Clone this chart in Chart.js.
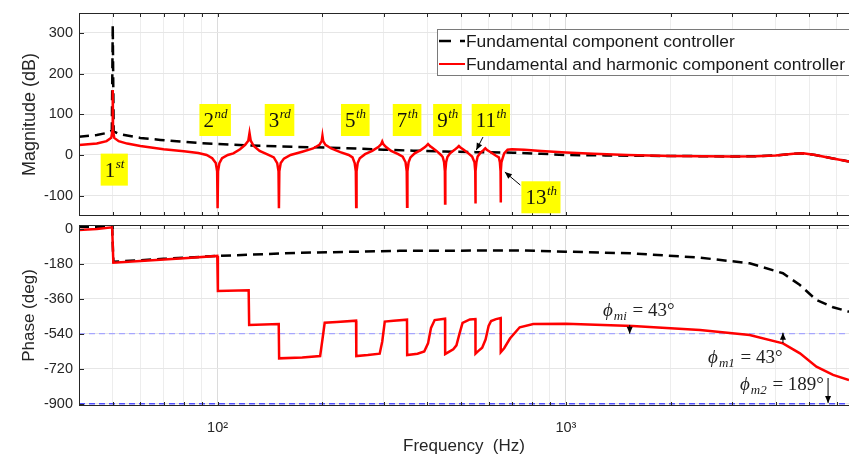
<!DOCTYPE html>
<html>
<head>
<meta charset="utf-8">
<script src="https://cdn.jsdelivr.net/npm/chart.js@4.4.1/dist/chart.umd.min.js"></script>
<style>
  body { margin: 0; background: #fff; }
  #wrap { position: relative; width: 849px; height: 457px; overflow: hidden; }
  canvas { position: absolute; left: 0; }
</style>
</head>
<body>
<div id="wrap">
  <canvas id="magChart" width="849" height="222" style="top:0"></canvas>
  <canvas id="phaseChart" width="849" height="237" style="top:220px"></canvas>
</div>
<script>
// BODE PLOT DATA

var seriesNames = ["Fundamental component controller", "Fundamental and harmonic component controller"];

// magnitude (dB) - fundamental controller
var magFreqFund = [40, 45, 48, 49.7, 50, 50.3, 52, 55, 60, 68.5, 78, 90, 100, 120, 150, 187, 250, 300, 364, 450, 550, 705, 850, 1000, 1300, 1600, 2000, 2500, 3000, 3500, 4000, 4500, 4800, 5200, 5800, 6500];
var magFund = [45, 49, 54, 60, 320, 58, 52, 48, 42, 37, 33, 29, 27, 24, 21, 19, 16, 13, 10.6, 8.5, 7, 5.7, 3, 0, -1, -2, -2.5, -3, -4, -3, -1, 3, 4, 0, -8, -16];

// magnitude (dB) - fundamental + harmonic controller
var magFreqHarm = [40, 45, 48, 49.5, 49.9, 50, 50.1, 50.5, 52, 55, 60, 70, 80, 88, 93, 96.5, 98.8, 99.7, 100, 100.3, 101.2, 103, 107, 111, 116, 120, 122.5, 123.5, 124.5, 127, 132, 140, 145, 148.3, 149.6, 150, 150.4, 151.8, 155, 162, 175, 188, 196, 199, 200, 201, 204, 212, 225, 238, 244, 247.5, 249.4, 250, 250.6, 252.5, 256, 265, 278, 290, 295, 297, 299, 304, 315, 330, 340, 346.5, 349.2, 350, 350.8, 353.5, 358, 368, 383, 395, 400, 402, 404, 410, 425, 438, 443, 447, 449.3, 450, 450.7, 453, 457, 465, 478, 489, 493, 497, 510, 525, 538, 546.5, 549.3, 550, 550.7, 553.5, 558, 568, 580, 587, 594, 610, 630, 642, 646.5, 649.3, 650, 650.7, 653, 657, 665, 680, 700, 760, 850, 1000, 1200, 1500, 2000, 2500, 3000, 3500, 4000, 4500, 4800, 5200, 5800, 6500];
var magHarm = [24.6, 28, 34, 42, 60, 160, 60, 42, 34, 28, 22, 14, 9, 5, 0, -8, -20, -40, -131, -40, -20, -8, 0, 4, 14, 25, 35, 54, 35, 22, 10, 0, -6, -20, -40, -131, -40, -20, -9, 0, 8, 16, 25, 34, 47, 34, 25, 16, 7, 0, -6, -20, -40, -128, -40, -20, -8, 2, 10, 20, 27, 33, 27, 20, 10, 2, -4, -18, -40, -127, -40, -18, -6, 4, 12, 20, 25, 27, 25, 20, 10, 0, -5, -18, -40, -119, -40, -18, -5, 4, 12, 19, 22, 19, 12, 4, -4, -18, -40, -119, -40, -18, -4, 5, 12, 16.5, 12, 6, -2, -6, -18, -40, -117, -40, -18, -10, 4, 13, 14, 13, 10, 6, 3, 0, -2.5, -3, -4, -3, -1, 3, 4, 0, -8, -16];

// phase (deg) - fundamental controller
var phaseFreqFund = [40, 49.8, 50.2, 70, 100, 172, 333, 734, 1000, 1556, 2427, 3370, 4200, 4700, 5240, 5850, 6500];
var phaseFund = [10, 10, -170, -155, -140, -124, -114, -112, -118, -127, -149, -178, -229, -290, -367, -404, -427];

// phase (deg) - fundamental + harmonic controller
var phaseFreqHarm = [40, 45, 49.8, 50.2, 60, 80, 99.8, 100.2, 122.8, 123.2, 149.8, 150.2, 175, 197, 200, 203, 220, 249.8, 250.2, 270, 292, 297, 302, 320, 349.8, 350.2, 375, 392, 402, 410, 420, 449.8, 450.2, 460, 475, 485, 495, 505, 530, 549.8, 550.2, 560, 575, 588, 600, 610, 630, 649.8, 650.2, 665, 691, 737, 806, 1000, 1556, 2427, 3370, 4200, 4700, 5240, 5850, 6500];
var phaseHarm = [-7, -2, 7, -175, -166, -152, -140, -320, -317, -495, -490, -667, -662, -655, -570, -484, -480, -473, -655, -650, -643, -580, -478, -473, -468, -650, -643, -632, -590, -510, -470, -463, -645, -635, -620, -600, -540, -485, -467, -465, -643, -630, -612, -570, -500, -475, -465, -460, -635, -615, -565, -507, -490, -489, -500, -521, -547, -590, -641, -710, -752, -778];

var phaseRefLevels = [-540, -900];

var freqMin = 40, freqMax = 6500;
var freqTicks = [50, 60, 70, 80, 90, 100, 200, 300, 400, 500, 600, 700, 800, 900, 1000, 2000, 3000, 4000, 5000, 6000];
var freqLabelValues = [100, 1000];
var freqLabelText = ["10\u00b2", "10\u00b3"];
var magTicks = [-100, 0, 100, 200, 300];
var phaseTicks = [-900, -720, -540, -360, -180, 0];

// annotations
var harmonicNotes = [
  {base: "1", sup: "st", f: 50.5, db: -36},
  {base: "2", sup: "nd", f: 98.4, db: 86},
  {base: "3", sup: "rd", f: 150.6, db: 86},
  {base: "5", sup: "th", f: 248.5, db: 86},
  {base: "7", sup: "th", f: 350, db: 86},
  {base: "9", sup: "th", f: 457, db: 86},
  {base: "11", sup: "th", f: 609, db: 86},
  {base: "13", sup: "th", f: 848, db: -104}
];
var magArrows = [
  {from: [578, 44], to: [553, 12]},
  {from: [740, -74], to: [668, -42]}
];
var phaseNotes = [
  {sub: "mi", value: "43\u00b0", f: 1278, deg: -418},
  {sub: "m1", value: "43\u00b0", f: 2560, deg: -662},
  {sub: "m2", value: "189\u00b0", f: 3160, deg: -799}
];
var phaseArrows = [
  {from: [1525, -495], to: [1525, -540]},
  {from: [4200, -588], to: [4200, -535]},
  {from: [5660, -768], to: [5660, -896]}
];

function pts(xs, ys) {
  return xs.map(function (x, i) { return {x: x, y: ys[i]}; });
}

Chart.defaults.font.family = "'Liberation Sans', Arial, sans-serif";
Chart.defaults.color = "#262626";

var SERIF = "'Liberation Serif', 'DejaVu Serif', serif";

function drawArrow(ctx, x1, y1, x2, y2) {
  var a = Math.atan2(y2 - y1, x2 - x1);
  ctx.save();
  ctx.strokeStyle = "#000";
  ctx.fillStyle = "#000";
  ctx.lineWidth = 1;
  ctx.beginPath();
  ctx.moveTo(x1, y1);
  ctx.lineTo(x2, y2);
  ctx.stroke();
  ctx.beginPath();
  ctx.moveTo(x2, y2);
  ctx.lineTo(x2 - 7 * Math.cos(a) + 3 * Math.sin(a), y2 - 7 * Math.sin(a) - 3 * Math.cos(a));
  ctx.lineTo(x2 - 7 * Math.cos(a) - 3 * Math.sin(a), y2 - 7 * Math.sin(a) + 3 * Math.cos(a));
  ctx.closePath();
  ctx.fill();
  ctx.restore();
}

// matlab style box + inward ticks
var boxPlugin = {
  id: "box",
  afterDatasetsDraw: function (chart) {
    var ctx = chart.ctx, a = chart.chartArea;
    var xs = chart.scales.x, ys = chart.scales.y;
    ctx.save();
    ctx.strokeStyle = "#262626";
    ctx.lineWidth = 1;
    ctx.strokeRect(a.left + 0.5, a.top + 0.5, a.right - a.left + 10, a.bottom - a.top - 1);
    ctx.beginPath();
    xs.ticks.forEach(function (t) {
      var px = Math.round(xs.getPixelForValue(t.value)) + 0.5;
      ctx.moveTo(px, a.top); ctx.lineTo(px, a.top + 4);
      ctx.moveTo(px, a.bottom); ctx.lineTo(px, a.bottom - 4);
    });
    ys.ticks.forEach(function (t) {
      var py = Math.round(ys.getPixelForValue(t.value)) + 0.5;
      ctx.moveTo(a.left, py); ctx.lineTo(a.left + 5, py);
    });
    ctx.stroke();
    ctx.restore();
  }
};

var magNotesPlugin = {
  id: "magNotes",
  afterDraw: function (chart) {
    var ctx = chart.ctx, xs = chart.scales.x, ys = chart.scales.y;
    ctx.save();
    harmonicNotes.forEach(function (n) {
      var cx = xs.getPixelForValue(n.f), cy = ys.getPixelForValue(n.db);
      ctx.font = "21px " + SERIF;
      var wb = ctx.measureText(n.base).width;
      ctx.font = "italic 13px " + SERIF;
      var ws = ctx.measureText(n.sup).width;
      var w = wb + ws + 8, h = 32;
      ctx.fillStyle = "#ffff00";
      ctx.fillRect(cx - w / 2, cy - h / 2, w, h);
      ctx.fillStyle = "#111";
      ctx.textBaseline = "alphabetic";
      ctx.textAlign = "left";
      ctx.font = "21px " + SERIF;
      ctx.fillText(n.base, cx - w / 2 + 4, cy + 7);
      ctx.font = "italic 13px " + SERIF;
      ctx.fillText(n.sup, cx - w / 2 + 4 + wb + 0.5, cy - 2);
    });
    magArrows.forEach(function (r) {
      drawArrow(ctx, xs.getPixelForValue(r.from[0]), ys.getPixelForValue(r.from[1]),
        xs.getPixelForValue(r.to[0]), ys.getPixelForValue(r.to[1]));
    });

    // legend
    var lx = 437, ly = 29, lh = 46;
    ctx.fillStyle = "#fff";
    ctx.fillRect(lx, ly, 849 - lx, lh);
    ctx.strokeStyle = "#7a7a7a";
    ctx.lineWidth = 1;
    ctx.strokeRect(lx + 0.5, ly + 0.5, 849 - lx + 5, lh);
    [0, 1].forEach(function (i) {
      var ds = chart.data.datasets[i];
      var y = ly + 12 + i * 23;
      ctx.save();
      ctx.strokeStyle = ds.borderColor;
      ctx.lineWidth = i === 0 ? 2.5 : 2;
      ctx.setLineDash(i === 0 ? [12, 9] : []);
      ctx.beginPath();
      ctx.moveTo(lx + 2, y);
      ctx.lineTo(lx + 28, y);
      ctx.stroke();
      ctx.restore();
      ctx.fillStyle = "#1a1a1a";
      ctx.font = "17.4px 'Liberation Sans', Arial, sans-serif";
      ctx.textBaseline = "middle";
      ctx.fillText(ds.label, lx + 29, y + 1);
    });
    ctx.restore();
  }
};

var phaseNotesPlugin = {
  id: "phaseNotes",
  afterDraw: function (chart) {
    var ctx = chart.ctx, xs = chart.scales.x, ys = chart.scales.y;
    ctx.save();
    ctx.fillStyle = "#222";
    ctx.textBaseline = "alphabetic";
    ctx.textAlign = "left";
    phaseNotes.forEach(function (n) {
      var x = xs.getPixelForValue(n.f), y = ys.getPixelForValue(n.deg) + 6;
      ctx.font = "italic 19px " + SERIF;
      ctx.fillText("\u03d5", x, y);
      x += ctx.measureText("\u03d5").width + 1;
      ctx.font = "italic 13px " + SERIF;
      ctx.fillText(n.sub, x, y + 4);
      x += ctx.measureText(n.sub).width + 1;
      ctx.font = "19px " + SERIF;
      ctx.fillText(" = " + n.value, x, y);
    });
    phaseArrows.forEach(function (r) {
      drawArrow(ctx, xs.getPixelForValue(r.from[0]), ys.getPixelForValue(r.from[1]),
        xs.getPixelForValue(r.to[0]), ys.getPixelForValue(r.to[1]));
    });
    ctx.restore();
  }
};

function xGridColor(c) {
  var v = c.tick && c.tick.value;
  return (v === 100 || v === 1000) ? "#dcdcdc" : "#ededed";
}

function xScale(showLabels) {
  return {
    type: "logarithmic",
    min: freqMin,
    max: freqMax,
    afterBuildTicks: function (s) { s.ticks = freqTicks.map(function (v) { return {value: v}; }); },
    afterFit: function (s) {
      s.height = showLabels ? 51 : 6;
      s.paddingLeft = 0; s.paddingRight = 0;
    },
    grid: { color: xGridColor, drawTicks: false },
    border: { display: false },
    ticks: {
      display: showLabels,
      autoSkip: false,
      maxRotation: 0,
      padding: 13,
      font: { size: 14.5 },
      color: "#262626",
      callback: function (v) {
        var k = freqLabelValues.indexOf(v);
        return k >= 0 ? freqLabelText[k] : "";
      }
    },
    title: {
      display: showLabels,
      text: "Frequency  (Hz)",
      font: { size: 17 },
      color: "#262626",
      padding: { top: 0, bottom: 0 }
    }
  };
}

function yScale(min, max, ticks, title, titleSize) {
  return {
    min: min,
    max: max,
    afterBuildTicks: function (s) { s.ticks = ticks.map(function (v) { return {value: v}; }); },
    afterFit: function (s) {
      s.width = 79;
      s.paddingTop = 0; s.paddingBottom = 0;
    },
    grid: { color: "#e6e6e6", drawTicks: false },
    border: { display: false },
    ticks: { padding: 6, font: { size: 14.5 }, color: "#262626" },
    title: { display: true, text: title, font: { size: titleSize }, color: "#262626", padding: { top: 19, bottom: 0 } }
  };
}

var commonOpts = {
  responsive: false,
  animation: false,
  devicePixelRatio: 1,
  plugins: { legend: { display: false }, tooltip: { enabled: false } },
  elements: { point: { radius: 0 }, line: { tension: 0 } }
};

new Chart("magChart", {
  type: "line",
  data: {
    datasets: [{
      label: seriesNames[0],
      data: pts(magFreqFund, magFund),
      borderColor: "#000000",
      borderWidth: 2.5,
      borderDash: [10, 6],
      order: 1
    }, {
      label: seriesNames[1],
      data: pts(magFreqHarm, magHarm),
      borderColor: "#ff0000",
      borderWidth: 2.5,
      order: 0
    }]
  },
  options: Object.assign({}, commonOpts, {
    layout: { padding: { top: 13, left: 0, right: 0, bottom: 0 } },
    scales: {
      x: xScale(false),
      y: yScale(-150, 349, magTicks, "Magnitude (dB)", 18)
    }
  }),
  plugins: [boxPlugin, magNotesPlugin]
});

var phaseSets = [{
  label: seriesNames[0],
  data: pts(phaseFreqFund, phaseFund),
  borderColor: "#000000",
  borderWidth: 2.5,
  borderDash: [10, 6],
  order: 1
}, {
  label: seriesNames[1],
  data: pts(phaseFreqHarm, phaseHarm),
  borderColor: "#ff0000",
  borderWidth: 2.5,
  order: 0
}];
phaseRefLevels.forEach(function (lvl, i) {
  phaseSets.push({
    label: "ref " + lvl,
    data: [{x: freqMin, y: lvl}, {x: freqMax, y: lvl}],
    borderColor: i === 0 ? "#a6a6ff" : "#4d4dff",
    borderWidth: i === 0 ? 1.2 : 1.5,
    borderDash: [6, 4],
    order: 2
  });
});

new Chart("phaseChart", {
  type: "line",
  data: { datasets: phaseSets },
  options: Object.assign({}, commonOpts, {
    layout: { padding: { top: 5, left: 0, right: 0, bottom: 0 } },
    scales: {
      x: xScale(true),
      y: yScale(-912, 19, phaseTicks, "Phase (deg)", 17)
    }
  }),
  plugins: [boxPlugin, phaseNotesPlugin]
});
</script>
</body>
</html>
